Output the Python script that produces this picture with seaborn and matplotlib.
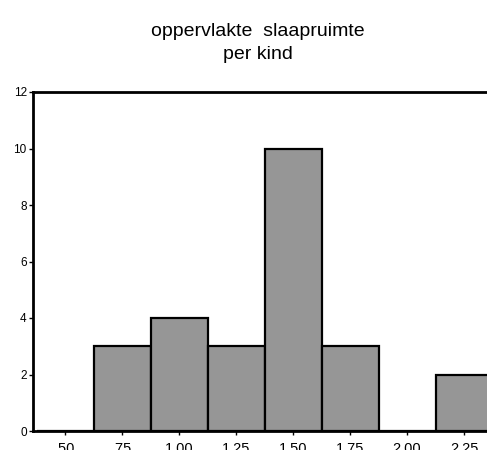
import matplotlib
matplotlib.use("Agg")
import matplotlib.pyplot as plt
import seaborn as sns
import numpy as np

# Data
bin_centers = [0.50, 0.75, 1.00, 1.25, 1.50, 1.75, 2.00, 2.25]
counts = [0, 3, 4, 3, 10, 3, 0, 2]
x_tick_labels = [".50", ".75", "1.00", "1.25", "1.50", "1.75", "2.00", "2.25"]
y_ticks = [0, 2, 4, 6, 8, 10, 12]
title = "oppervlakte  slaapruimte\nper kind"

sns.set_theme(style="white")
plt.rcParams['font.family'] = ['Liberation Sans', 'DejaVu Sans']

fig = plt.figure(figsize=(4.87, 4.5), dpi=100)
ax = fig.add_axes([33/487, 19/450, 488/487, 339/450])

width = 0.25
edges = [c - width/2 for c in bin_centers] + [bin_centers[-1] + width/2]
sns.histplot(x=bin_centers, weights=counts, bins=edges, ax=ax,
             color="#969696", alpha=1.0, edgecolor="black", linewidth=1.6)

ax.set_xlim(0.3596, 2.5)
ax.set_ylim(0, 12)
ax.set_xticks(bin_centers)
ax.set_xticklabels(x_tick_labels)
ax.set_yticks(y_ticks)
ax.set_xlabel("")
ax.set_ylabel("")
ax.tick_params(axis='both', which='both', direction='out', length=3, width=1,
               colors='black', bottom=True, left=True)
ax.tick_params(axis='y', labelsize=8.5, pad=1.5)
ax.tick_params(axis='x', labelsize=10.5, pad=5)
for s in ax.spines.values():
    s.set_visible(True)
    s.set_color("black")
    s.set_linewidth(2)

fig.text(258/487, 1 - 43/450, title, ha="center", va="center",
         fontsize=14, linespacing=1.45, color="black")

fig.savefig("out.png", dpi=100)
